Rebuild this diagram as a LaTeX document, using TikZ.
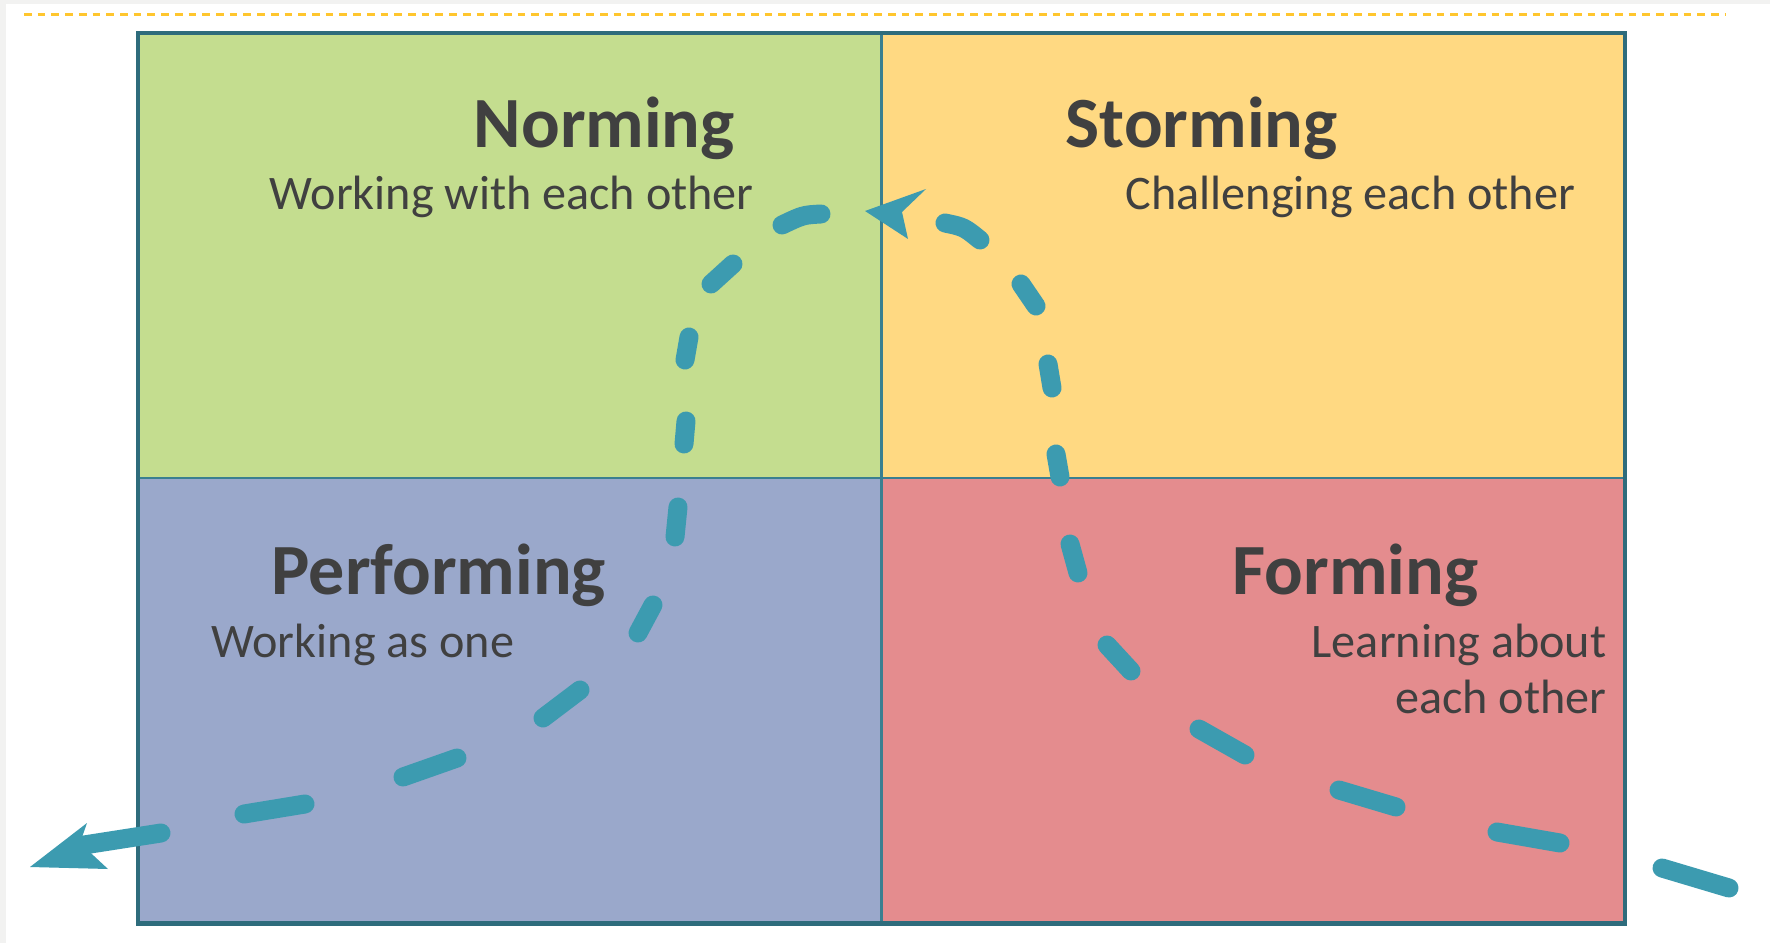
\documentclass[tikz,border=0pt]{standalone}
\usepackage{fontspec}
\setmainfont{Carlito}
\definecolor{framegrey}{HTML}{F2F2F1}
\definecolor{lineorange}{HTML}{FFC62E}
\definecolor{edgeteal}{HTML}{2E6C7C}
\definecolor{splitteal}{HTML}{3A7F90}
\definecolor{normgreen}{HTML}{C4DD8F}
\definecolor{stormyellow}{HTML}{FFD982}
\definecolor{perfblue}{HTML}{9AA8CB}
\definecolor{formred}{HTML}{E48C8E}
\definecolor{flowblue}{HTML}{3C9BB0}
\definecolor{textgrey}{HTML}{404040}
\tikzset{
  title/.style={font=\bfseries\fontsize{20.5}{24}\selectfont, text=textgrey, inner sep=0pt, anchor=base west},
  subtitle/.style={font=\fontsize{13.7}{16}\selectfont, text=textgrey, inner sep=0pt, anchor=base west},
  flow/.style={draw=flowblue, line width=5.4pt, line cap=round}
}

\begin{document}
\begin{tikzpicture}[x=0.01cm, y=-0.01cm]
  \useasboundingbox (0,0) rectangle (1770,943);
  % page frame
  \fill[framegrey] (0,0) rectangle (1770,943);
  \fill[white] (6,4.5) rectangle (1770,943);
  \draw[lineorange, line width=0.7pt, dash pattern=on 2.2pt off 1.7pt] (24,14.5) -- (1725,14.5);
  % quadrants
  \fill[normgreen] (138,33) rectangle (881.5,478);
  \fill[stormyellow] (881.5,33) rectangle (1625,478);
  \fill[perfblue] (138,478) rectangle (881.5,923.5);
  \fill[formred] (881.5,478) rectangle (1625,923.5);
  \draw[splitteal, line width=0.85pt] (881.5,33) -- (881.5,923.5);
  \draw[splitteal, line width=0.85pt] (138,478) -- (1625,478);
  \draw[edgeteal, line width=1.2pt] (138,33) rectangle (1625,923.5);
  % labels
  \node[title] (norming) at (473,148) {Norming};
  \node[subtitle] (normsub) at (269,210) {Working with each other};
  \node[title] (storming) at (1065,148) {Storming};
  \node[subtitle] (stormsub) at (1125,210) {Challenging each other};
  \node[title] (performing) at (271,594) {Performing};
  \node[subtitle] (perfsub) at (211,657) {Working as one};
  \node[title] (forming) at (1232,594) {Forming};
  \node[subtitle, anchor=base east] (formsub) at (1607,657) {Learning about};
  \node[subtitle, anchor=base east] (formsub2) at (1607,713) {each other};
  % flow: forming -> storming
  \draw[flow]
    (1662,868) -- (1729,888)
    (1497,832) -- (1560,843)
    (1339,790) -- (1396,807)
    (1199,729) -- (1245,755)
    (1107,645) -- (1131,671)
    (1070,544) -- (1078,573)
    (1056,454) -- (1060,477)
    (1048,364) -- (1052,388)
    (1021,284) -- (1036,306)
    (945,223) .. controls (964,227) .. (980,240);
  \fill[flowblue] (865,211) -- (926,189) -- (902,212) -- (908,239) -- cycle;
  % flow: norming -> performing -> out
  \draw[flow]
    (821,214) .. controls (803,215) .. (782,225)
    (733,264) -- (711,284)
    (689,337) -- (685,360)
    (686,421) -- (684,444)
    (678,507) -- (675,537)
    (653,605) -- (638,633)
    (580,690) -- (543,718)
    (457,758) -- (403,777)
    (305,804) -- (244,814)
    (161,833) -- (84,845);
  \fill[flowblue] (30,867) -- (87,823) -- (80,843) -- (108,869) -- cycle;
\end{tikzpicture}
\end{document}
